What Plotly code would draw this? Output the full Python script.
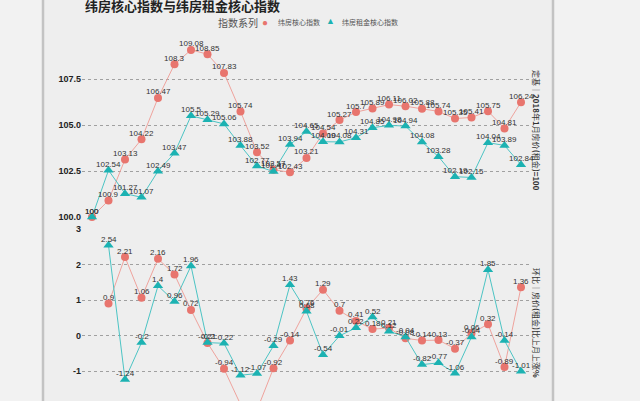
import plotly.graph_objects as go

# ---- data ----
idx = list(range(27))
core_index = [100, 100.9, 103.13, 104.22, 106.47, 108.3, 109.08, 108.85, 107.83, 105.74,
              103.52, 102.57, 102.43, 103.21, 104.54, 105.27, 105.7, 105.89, 106.11, 106.02,
              105.88, 105.74, 105.35, 105.41, 105.75, 104.81, 106.24]
rent_index = [100, 102.54, 101.27, 101.07, 102.49, 103.47, 105.5, 105.29, 105.06, 103.88,
              102.77, 102.47, 103.94, 104.65, 104.09, 104.08, 104.31, 104.85, 104.98, 104.94,
              104.08, 103.28, 102.19, 102.15, 104.04, 103.89, 102.84]
mom_idx = list(range(1, 27))
core_mom = [0.9, 2.21, 1.06, 2.16, 1.72, 0.72, -0.21, -0.94, -1.94, -2.1, -0.92, -0.14, 0.76,
            1.29, 0.7, 0.41, 0.18, 0.21, -0.08, -0.14, -0.13, -0.37, 0.06, 0.32, -0.89, 1.36]
rent_mom = [2.54, -1.24, -0.2, 1.4, 0.96, 1.96, -0.2, -0.22, -1.12, -1.07, -0.29, 1.43, 0.68,
            -0.54, -0.01, 0.22, 0.52, 0.12, -0.04, -0.82, -0.77, -1.06, -0.04, 1.85, -0.14, -1.01]
top_ticks = [100, 102.5, 105, 107.5]
top_ticktext = ["100.0", "102.5", "105.0", "107.5"]
bot_ticks = [-1, 0, 1, 2, 3]
series_names = ["纬房核心指数", "纬房租金核心指数"]

W, H = 640, 401
RED, RED_LINE = "#e8756e", "#eea39d"
TEAL, TEAL_LINE = "#1cb2b2", "#4cc4c4"

fig = go.Figure()

def add_series(x, y, xa, ya, color, lcolor, symbol, size, name):
    fig.add_trace(go.Scatter(x=x, y=y, xaxis=xa, yaxis=ya, mode="lines+markers", name=name,
                             line=dict(color=lcolor, width=1),
                             marker=dict(color=color, symbol=symbol, size=size),
                             cliponaxis=False, showlegend=False))
    for xi, yi in zip(x, y):
        fig.add_annotation(x=xi, y=yi, xref=xa, yref=ya, text=f"{yi:g}", showarrow=False,
                           yanchor="middle", yshift=6,
                           font=dict(family="Arial, Liberation Sans", size=8, color="#333"))

add_series(idx, core_index, "x", "y", RED, RED_LINE, "circle", 8, series_names[0])
add_series(idx, rent_index, "x", "y", TEAL, TEAL_LINE, "triangle-up", 9, series_names[1])
add_series(mom_idx, core_mom, "x2", "y2", RED, RED_LINE, "circle", 8, series_names[0])
add_series(mom_idx, rent_mom, "x2", "y2", TEAL, TEAL_LINE, "triangle-up", 9, series_names[1])

xdom = [82 / W, 531 / W]
xr = [-10 / 16.5, 26 + 10 / 16.5]
def py(p):
    return (H - p) / H

tickfont = dict(family="Arial, Liberation Sans", size=9, color="#222")
grid = dict(showgrid=True, gridcolor="#a0a0a0", griddash="dot", gridwidth=1, zeroline=False,
            showline=False, ticks="", tickfont=tickfont, automargin=False)

fig.update_layout(
    template="none",
    width=W, height=H,
    margin=dict(l=0, r=0, t=0, b=0, pad=0),
    paper_bgcolor="#f2f2f2", plot_bgcolor="rgba(0,0,0,0)",
    xaxis=dict(domain=xdom, range=xr, visible=False, anchor="y", automargin=False),
    xaxis2=dict(domain=xdom, range=xr, visible=False, anchor="y2", automargin=False),
    yaxis=dict(domain=[py(217), py(33)], range=[100, 110], tickvals=top_ticks,
               ticktext=["<b>%s</b>" % t for t in top_ticktext], anchor="x", **grid),
    yaxis2=dict(domain=[0, py(229)], range=[-1 - 30 / 35.5, 3], tickvals=bot_ticks,
                ticktext=["<b>%d</b>" % t for t in bot_ticks], anchor="x2", **grid),
    showlegend=False,
)

# panel background and borders
fig.add_shape(type="rect", xref="paper", yref="paper", x0=44 / W, x1=552 / W, y0=0, y1=1,
              fillcolor="#eeeeee", line=dict(width=0), layer="below")
for xp in (43, 553):
    fig.add_shape(type="line", xref="paper", yref="paper", x0=xp / W, x1=xp / W, y0=0, y1=1,
                  line=dict(color="#c3c3c3", width=2.5), layer="below")

# title
fig.add_annotation(xref="paper", yref="paper", x=83 / W, y=py(6), xanchor="left", yanchor="middle",
                   text="<b>纬房核心指数与纬房租金核心指数</b>", showarrow=False,
                   font=dict(family="Noto Sans CJK SC", size=13, color="#222"))

# legend (manual)
lfont = dict(family="Noto Sans CJK SC", size=7, color="#555")
fig.add_annotation(xref="paper", yref="paper", x=216 / W, y=py(22), xanchor="left", yanchor="middle",
                   text="指数系列", showarrow=False,
                   font=dict(family="Noto Sans CJK SC", size=10, color="#555"))
fig.add_annotation(xref="paper", yref="paper", x=265 / W, y=py(22), xanchor="center", yanchor="middle",
                   text="●", showarrow=False, font=dict(size=10, color=RED))
fig.add_annotation(xref="paper", yref="paper", x=276 / W, y=py(22), xanchor="left", yanchor="middle",
                   text=series_names[0], showarrow=False, font=lfont)
fig.add_annotation(xref="paper", yref="paper", x=330 / W, y=py(21), xanchor="center", yanchor="middle",
                   text="▲", showarrow=False, font=dict(size=9, color=TEAL))
fig.add_annotation(xref="paper", yref="paper", x=340 / W, y=py(22), xanchor="left", yanchor="middle",
                   text=series_names[1], showarrow=False, font=lfont)

# right axis titles
rfont = dict(family="Noto Sans CJK SC", size=8, color="#333")
fig.add_annotation(xref="paper", yref="paper", x=537 / W, y=py(130), xanchor="center", yanchor="middle",
                   text="定基｜<b>2018</b>年<b>1</b>月房价<b>(</b>租金<b>)=100</b>", textangle=90,
                   showarrow=False, font=rfont)
fig.add_annotation(xref="paper", yref="paper", x=537 / W, y=py(323), xanchor="center", yanchor="middle",
                   text="环比｜房价<b>(</b>租金<b>)</b>比上月上涨<b>%</b>", textangle=90,
                   showarrow=False, font=rfont)

fig.write_html("out.html", config={"displayModeBar": False},
               post_script="document.body.style.margin='0';document.body.style.background='#f2f2f2';")
